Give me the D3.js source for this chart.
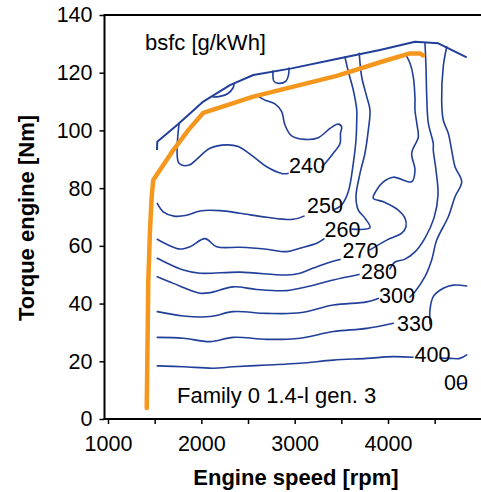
<!DOCTYPE html>
<html>
<head>
<meta charset="utf-8">
<script src="https://cdn.jsdelivr.net/npm/d3@7"></script>
<style>
  body { margin: 0; background: #fff; }
  svg { display: block; }
  text { font-family: "Liberation Sans", Arial, sans-serif; fill: #000; }
</style>
</head>
<body>
<svg id="chart" width="481" height="492"></svg>
<script>
// Axis ticks
const speedTicks = [1000, 2000, 3000, 4000];
const torqueTicks = [0, 20, 40, 60, 80, 100, 120, 140];

// Full-load torque curve [rpm, Nm]
const fullLoadCurve = [[1525, 93.2], [1528, 96.1], [1753, 102.2], [2021, 110.0], [2307, 115.7],
  [2557, 119.2], [2968, 121.5], [3486, 125.0], [3914, 127.9], [4289, 130.7], [4539, 130.2], [4843, 125.3]];

// Operating line [rpm, Nm]
const operatingLine = [[1415, 3.8], [1432, 48.2], [1450, 65.5], [1468, 77.0], [1485, 82.8], [1700, 93.2],
  [1860, 100.1], [2021, 106.1], [2557, 111.7], [3450, 118.9], [3932, 123.8], [4236, 126.7], [4343, 126.7], [4375, 126.0]];

// bsfc iso-lines [rpm, Nm]; null splits a line where its label sits
const islandA = [[2125, 111.6], [2200, 111.8], [2286, 112.8], [2339, 114.7], [2350, 115.9]];
const islandB = [[2768, 120.6], [2779, 117.0], [2832, 116.3], [2907, 117.1], [2934, 119.2], [2939, 121.6]];
const bsfc240 = [[1761, 102.2], [1761, 88.6], [1871, 88.0], [1950, 90.0], [2093, 93.8], [2272, 95.0], [2396, 94.4],
  [2557, 90.9], [2700, 87.4], [2861, 85.1], [2929, 85.1], null,
  [3293, 87.3], [3414, 92.1], [3486, 95.5], [3491, 99.1], [3504, 101.2], [3467, 102.2], [3379, 100.7], [3253, 97.5],
  [3111, 96.9], [2968, 98.1], [2896, 101.9], [2861, 106.5], [2789, 109.2], [2682, 110.5], [2607, 111.9]];
const bsfc250 = [[1528, 74.7], [1592, 71.8], [1707, 70.3], [1843, 70.6], [1986, 72.1], [2200, 72.2], [2414, 71.3],
  [2700, 69.9], [2985, 69.2], [3100, 70.3], null,
  [3411, 72.4], [3504, 74.2], [3575, 78.8], [3628, 88.6], [3657, 96.7], [3665, 103.6], [3665, 107.1], [3628, 114.0],
  [3575, 120.4], [3539, 125.4]];
const bsfc260 = [[1528, 62.3], [1646, 60.3], [1771, 58.9], [1879, 59.7], [2039, 62.5], [2165, 59.7], [2414, 59.5],
  [2700, 58.8], [2915, 58.0], [3057, 59.2], [3236, 60.9], [3314, 62.4], null,
  [3614, 65.8], [3807, 66.3], [3753, 69.6], [3682, 72.4], [3657, 77.0], [3700, 85.1], [3753, 92.1], [3789, 100.1],
  [3807, 107.1], [3772, 111.7], [3718, 118.6], [3692, 126.7]];
const bsfc270 = [[1528, 55.7], [1807, 51.6], [1986, 50.5], [2414, 50.9], [2915, 49.9], [3057, 50.5], [3200, 52.3],
  [3343, 54.0], [3486, 55.3], null,
  [3807, 58.6], [3986, 62.0], [4147, 64.4], [4193, 66.6], [4182, 69.6], [4110, 72.4], [3950, 75.3], [3842, 76.5],
  [3879, 79.4], [3950, 82.2], [4057, 83.8], [4254, 82.2], [4289, 86.3], [4254, 92.1], [4325, 97.8], [4311, 101.9],
  [4289, 107.1], [4289, 111.2], [4271, 118.6], [4236, 123.3], [4193, 126.1]];
const bsfc280 = [[1528, 49.3], [1700, 47.0], [1986, 43.6], [2093, 43.8], [2342, 45.8], [2593, 44.9], [2915, 44.5],
  [3129, 45.8], [3414, 48.2], [3689, 50.1], null,
  [4021, 52.0], [4075, 54.4], [4182, 55.4], [4289, 57.9], [4396, 62.7], [4493, 69.7], [4536, 77.6], [4514, 86.3],
  [4485, 93.2], [4485, 95.5], [4432, 102.5], [4415, 111.7], [4407, 122.1], [4396, 130.4]];
const bsfc300 = [[1528, 37.2], [1807, 35.7], [2093, 35.5], [2342, 37.2], [2700, 36.6], [3057, 36.8], [3414, 39.5],
  [3772, 40.6], [3896, 41.8], null,
  [4236, 42.3], [4289, 44.1], [4396, 49.3], [4468, 55.1], [4522, 62.0], [4646, 70.1], [4718, 77.0], [4790, 82.2],
  [4718, 87.4], [4682, 93.2], [4646, 99.0], [4592, 103.6], [4575, 110.5], [4592, 122.1], [4629, 129.0]];
const bsfc330 = [[1528, 28.3], [1807, 28.0], [2093, 26.8], [2342, 28.3], [2700, 27.6], [3057, 28.0], [3414, 30.3],
  [3772, 31.4], [4057, 33.2], null,
  [4450, 32.9], [4450, 37.8], [4485, 42.4], [4592, 45.3], [4700, 46.4], [4843, 46.1]];
const bsfc400 = [[1528, 18.4], [1807, 18.1], [2128, 17.6], [2342, 18.1], [2700, 18.7], [3057, 19.3], [3414, 20.4],
  [3772, 21.0], [4057, 21.6], [4268, 21.4], null,
  [4557, 21.1], [4664, 21.0], [4771, 21.0], [4843, 22.2]];
const bsfcHigh = [[4750, 12.1], [4836, 12.5]];

// Iso-line labels (text, anchor rpm, baseline Nm)
const labelText = ["240", "250", "260", "270", "280", "300", "330", "400", "00"];
const labelRpm = [3132, 3325, 3512, 3705, 3904, 4096, 4289, 4477, 4728];
const labelTorque = [85.2, 71.4, 63.1, 55.8, 48.5, 40.2, 30.5, 19.8, 10.0];

const svg = d3.select("#chart");
const plotLeft = 104.5, plotRight = 481, plotTop = 15, plotBottom = 419;

const x = d3.scaleLinear().domain([1000, 4000]).range([108, 388]);
const y = d3.scaleLinear().domain([0, 140]).range([plotBottom, plotTop]);

const blue = "#213f99";
const orange = "#f5961d";

// Iso-lines
const contourLine = d3.line()
  .defined(d => d !== null)
  .x(d => x(d[0])).y(d => y(d[1]))
  .curve(d3.curveCatmullRom.alpha(0.5));

const isoLines = [islandA, islandB, bsfc240, bsfc250, bsfc260, bsfc270, bsfc280, bsfc300, bsfc330, bsfc400, bsfcHigh];
svg.append("g").selectAll("path").data(isoLines).join("path")
  .attr("d", contourLine)
  .attr("fill", "none").attr("stroke", blue).attr("stroke-width", 1.6)
  .attr("stroke-linejoin", "round").attr("stroke-linecap", "round");

// Full-load curve
svg.append("path").datum(fullLoadCurve)
  .attr("d", d3.line().x(d => x(d[0])).y(d => y(d[1])))
  .attr("fill", "none").attr("stroke", blue).attr("stroke-width", 2)
  .attr("stroke-linejoin", "round");

// Operating line
svg.append("path").datum(operatingLine)
  .attr("d", d3.line().x(d => x(d[0])).y(d => y(d[1])))
  .attr("fill", "none").attr("stroke", orange).attr("stroke-width", 4.5)
  .attr("stroke-linejoin", "round").attr("stroke-linecap", "round");

// Iso-line labels
svg.append("g").selectAll("text").data(labelText).join("text")
  .attr("x", (d, i) => x(labelRpm[i]))
  .attr("y", (d, i) => y(labelTorque[i]))
  .attr("text-anchor", "middle")
  .attr("font-size", "21.5px")
  .text(d => d);

// Annotations
svg.append("text").attr("x", x(1396)).attr("y", y(127.9))
  .attr("font-size", "22px").text("bsfc [g/kWh]");
svg.append("text").attr("x", x(1739)).attr("y", y(5.5))
  .attr("font-size", "22px").text("Family 0 1.4-l gen. 3");

// Axes
const yAxisG = svg.append("g").attr("transform", `translate(${plotLeft},0)`);
yAxisG.call(d3.axisLeft(y).tickValues(d3.range(0, 141, 5).filter(v => v % 20 !== 0))
  .tickSize(3).tickSizeOuter(0).tickFormat(""));
yAxisG.call(d3.axisLeft(y).tickValues(torqueTicks).tickSize(5).tickSizeOuter(0).tickPadding(7));

const xAxisG = svg.append("g").attr("transform", `translate(0,${plotBottom})`);
xAxisG.call(d3.axisBottom(x).tickValues(d3.range(1000, 5000, 100).filter(v => v % 500 !== 0))
  .tickSize(3).tickSizeOuter(0).tickFormat(""));
xAxisG.call(d3.axisBottom(x).tickValues(d3.range(1000, 5000, 500)).tickSize(5).tickSizeOuter(0)
  .tickFormat(v => speedTicks.includes(v) ? String(v) : ""));

svg.selectAll(".domain").remove();
svg.selectAll(".tick line").attr("stroke", "#000").attr("stroke-width", 1.5);
svg.selectAll(".tick text").attr("font-size", "21.5px").attr("font-family", "Liberation Sans, Arial, sans-serif").attr("fill", "#000");
xAxisG.selectAll(".tick text").attr("y", 32).attr("dy", 0);

// Frame lines
svg.append("line").attr("x1", plotLeft).attr("x2", plotRight).attr("y1", plotTop).attr("y2", plotTop)
  .attr("stroke", "#000").attr("stroke-width", 2);
svg.append("line").attr("x1", plotLeft).attr("x2", plotLeft).attr("y1", plotTop - 1).attr("y2", plotBottom + 1)
  .attr("stroke", "#000").attr("stroke-width", 2);
svg.append("line").attr("x1", plotLeft - 1).attr("x2", plotRight).attr("y1", plotBottom).attr("y2", plotBottom)
  .attr("stroke", "#000").attr("stroke-width", 2);

// Axis titles
svg.append("text").attr("x", 296).attr("y", 485).attr("text-anchor", "middle")
  .attr("font-size", "22px").attr("font-weight", "bold").text("Engine speed [rpm]");
svg.append("text").attr("transform", "translate(34,218) rotate(-90)").attr("text-anchor", "middle")
  .attr("font-size", "22px").attr("font-weight", "bold").text("Torque engine [Nm]");
</script>
</body>
</html>
